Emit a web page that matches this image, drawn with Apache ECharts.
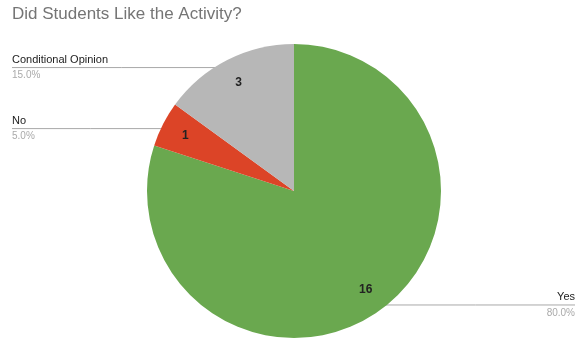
<!DOCTYPE html>
<html>
<head>
<meta charset="utf-8">
<script src="https://cdn.jsdelivr.net/npm/echarts@6/dist/echarts.min.js"></script>
<style>
  html, body { margin: 0; padding: 0; background: #fff; }
  #chart { width: 576px; height: 341px; }
</style>
</head>
<body>
<div id="chart"></div>
<script>
const answers = ['Yes', 'No', 'Conditional Opinion'];
const counts = [16, 1, 3];
const sliceColors = ['#6aa84f', '#dc4427', '#b7b7b7'];

const CX = 294, CY = 191, R = 147;
const W = 576;

const chart = echarts.init(document.getElementById('chart'));

const pieData = answers.map((name, i) => ({
    name: name,
    value: counts[i],
    itemStyle: { color: sliceColors[i] }
}));

function placeLabel(params) {
    const p = params.labelLinePoints;
    if (!p) return {};
    // start the leader line a little inside the slice, then run flat to the edge
    const sx = CX + (p[0][0] - CX) * 0.95;
    const sy = CY + (p[0][1] - CY) * 0.95 + 1;
    const left = sx < CX;
    const ex = left ? 12 : W - 1;
    return {
        x: ex,
        y: sy,
        align: left ? 'left' : 'right',
        verticalAlign: 'middle',
        labelLinePoints: [[sx, sy], [(sx + ex) / 2, sy], [ex, sy]]
    };
}

chart.setOption({
    animation: false,
    title: {
        text: 'Did Students Like the Activity?',
        left: 12,
        top: 6,
        padding: 0,
        textStyle: {
            fontFamily: 'Liberation Sans, Arial, sans-serif',
            fontSize: 17,
            fontWeight: 'normal',
            color: '#757575'
        }
    },
    series: [
        {
            type: 'pie',
            center: [CX, CY],
            radius: R,
            startAngle: 90,
            clockwise: true,
            silent: true,
            data: pieData,
            label: {
                show: true,
                position: 'outside',
                formatter: p => '{n|' + p.name + '}\n{p|' + p.percent.toFixed(1) + '%}',
                rich: {
                    n: { fontFamily: 'Liberation Sans, Arial, sans-serif', fontSize: 11, color: '#222', lineHeight: 16 },
                    p: { fontFamily: 'Liberation Sans, Arial, sans-serif', fontSize: 10, color: '#aaa', lineHeight: 16 }
                }
            },
            labelLine: {
                show: true,
                length: 10,
                length2: 10,
                lineStyle: { color: '#a8a8a8', width: 1 }
            },
            labelLayout: placeLabel
        },
        {
            type: 'pie',
            center: [CX, CY],
            radius: [91, R],
            startAngle: 90,
            clockwise: true,
            silent: true,
            data: answers.map((name, i) => ({ name: name, value: counts[i] })),
            itemStyle: { color: 'rgba(0,0,0,0)' },
            label: {
                show: true,
                position: 'inside',
                formatter: '{c}',
                fontFamily: 'Liberation Sans, Arial, sans-serif',
                fontSize: 12,
                fontWeight: 'bold',
                color: '#222'
            },
            labelLine: { show: false }
        }
    ]
});
</script>
</body>
</html>
